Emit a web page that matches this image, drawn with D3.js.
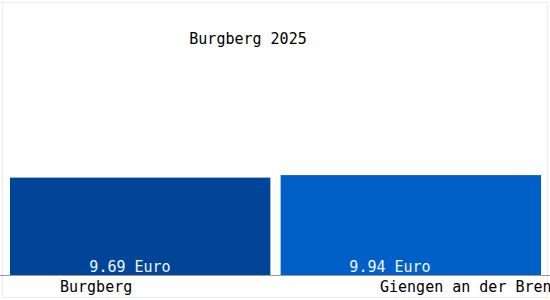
<!DOCTYPE html>
<html>
<head>
<meta charset="utf-8">
<script src="https://cdn.jsdelivr.net/npm/d3@7"></script>
<style>
  body { margin: 0; background: #fff; }
  text { font-family: "DejaVu Sans Mono", monospace; }
</style>
</head>
<body>
<div id="chart"></div>
<script>
const categories = ["Burgberg", "Giengen an der Brenz"];
const values = [9.69, 9.94];
const valueLabels = ["9.69 Euro", "9.94 Euro"];
const title = "Burgberg 2025";
const colors = ["#004598", "#0060c8"];

const width = 550, height = 300;
const baseY = 275;

const svg = d3.select('#chart')
  .append('svg')
    .attr('width', width)
    .attr('height', height);

// faint frame
svg.append('rect')
  .attr('x', 2.5).attr('y', 2.5)
  .attr('width', width - 5).attr('height', height - 5)
  .attr('fill', '#fff')
  .attr('stroke', '#ececec');

const x = d3.scaleBand()
  .domain(categories)
  .range([10, 541])
  .paddingInner(0.038);

const y = d3.scaleLinear()
  .domain([0, 20])
  .range([baseY, baseY - 201]);

const labelX = d3.scalePoint()
  .domain(categories)
  .range([130, 390]);

const catX = d3.scalePoint()
  .domain(categories)
  .range([60, 380]);

svg.selectAll('rect.bar')
  .data(values)
  .enter()
  .append('rect')
    .attr('class', 'bar')
    .attr('x', (d, i) => x(categories[i]))
    .attr('y', d => y(d))
    .attr('width', x.bandwidth())
    .attr('height', d => baseY - y(d))
    .attr('fill', (d, i) => colors[i]);

svg.append('line')
  .attr('x1', 0).attr('x2', width)
  .attr('y1', baseY + 0.5).attr('y2', baseY + 0.5)
  .attr('stroke', '#999');

svg.selectAll('text.val')
  .data(valueLabels)
  .enter()
  .append('text')
    .attr('class', 'val')
    .attr('x', (d, i) => labelX(categories[i]))
    .attr('y', 272)
    .attr('text-anchor', 'middle')
    .attr('font-size', 15)
    .attr('fill', '#f0f4ff')
    .text(d => d);

svg.selectAll('text.cat')
  .data(categories)
  .enter()
  .append('text')
    .attr('class', 'cat')
    .attr('x', d => catX(d))
    .attr('y', 292)
    .attr('font-size', 15)
    .attr('fill', '#000')
    .text(d => d);

svg.append('text')
  .attr('x', 248)
  .attr('y', 44)
  .attr('text-anchor', 'middle')
  .attr('font-size', 15)
  .attr('fill', '#000')
  .text(title);
</script>
</body>
</html>
